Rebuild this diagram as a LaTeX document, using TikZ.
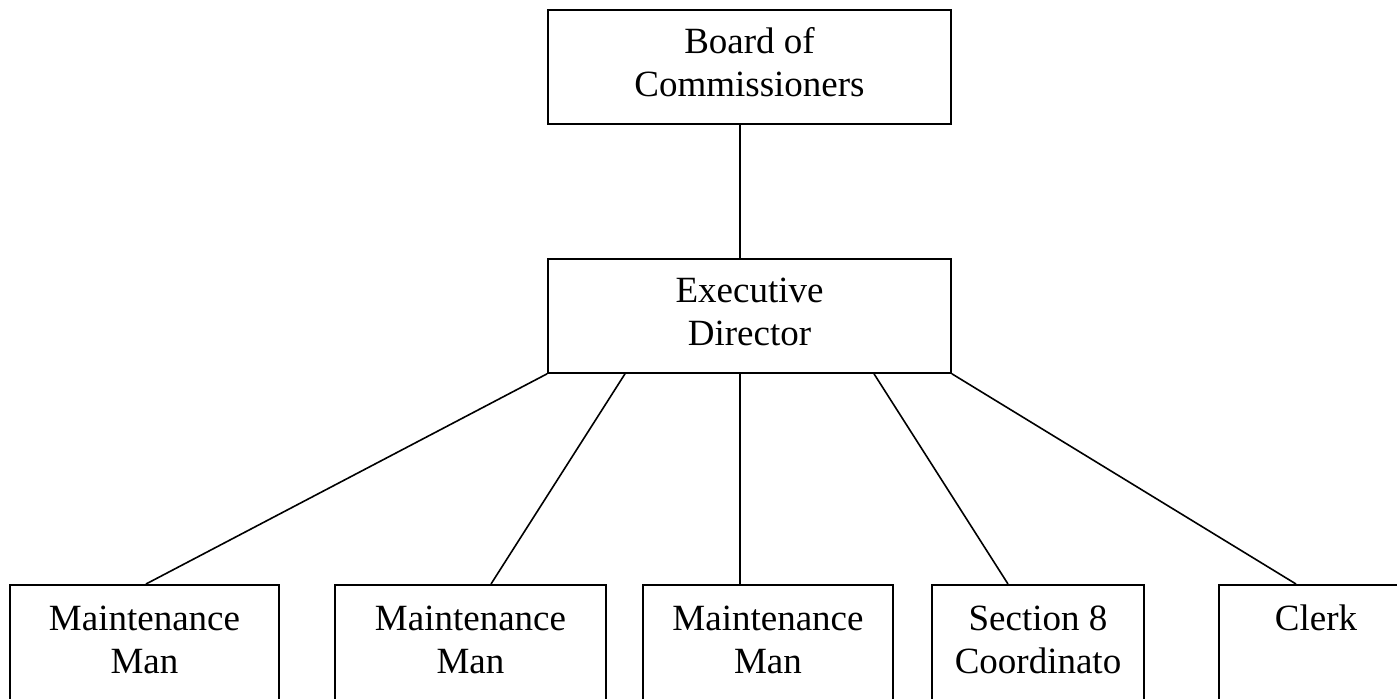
\documentclass[tikz,border=0pt]{standalone}
\usepackage{fontspec}
\setmainfont{Liberation Serif}
\usepackage{tikz}

\begin{document}
\begin{tikzpicture}[
    x=0.5pt, y=-0.5pt,
    postnode/.style={rectangle, draw=black, line width=0.9pt, anchor=north, align=center, inner sep=0pt, font=\fontsize{18.5}{21.25}\selectfont},
    topnode/.style={postnode, minimum width=201.5pt, text height=43.25pt, text depth=13.75pt},
    staffnode/.style={postnode, text height=44.25pt, text depth=60pt},
    link/.style={line width=0.8pt}
]
    \useasboundingbox (0,0) rectangle (1397,698);

    % Top of the chart
    % - [Board and Director]
    \node at (749.5, 9) [topnode] (board) {Board of\\Commissioners};
    \node at (749.5, 258) [topnode] (exec) {Executive\\Director};
    \draw [link] ([xshift=-4.75pt] board.south) -- ([xshift=-4.75pt] exec.north);

    % Staff row
    % - [Staff boxes]
    \node at (144.5, 584) [staffnode, minimum width=134.5pt] (maint_1) {Maintenance\\Man};
    \node at (470.5, 584) [staffnode, minimum width=135.5pt] (maint_2) {Maintenance\\Man};
    \node at (768, 584) [staffnode, minimum width=125pt] (maint_3) {Maintenance\\Man};
    \node at (1038, 584) [staffnode, minimum width=106pt] (section_8) {Section 8\\Coordinato};
    \node at (1316, 584) [staffnode, minimum width=97pt, text height=23pt] (clerk) {Clerk};
    % - [Lines from the Director]
    \draw [link] (exec.south west) -- ([xshift=0.75pt] maint_1.north);
    \draw [link] ([xshift=-62.25pt] exec.south) -- ([xshift=10.25pt] maint_2.north);
    \draw [link] ([xshift=-4.75pt] exec.south) -- ([xshift=-14pt] maint_3.north);
    \draw [link] ([xshift=62.25pt] exec.south) -- ([xshift=-15pt] section_8.north);
    \draw [link] (exec.south east) -- ([xshift=-10pt] clerk.north);

\end{tikzpicture}
\end{document}
